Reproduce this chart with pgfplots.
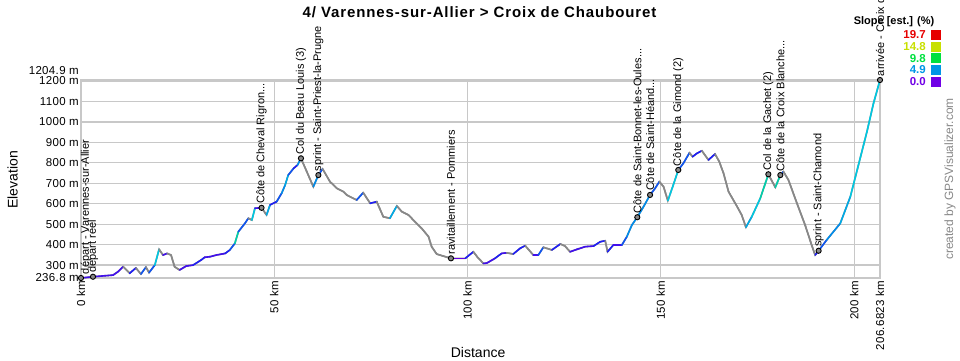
\documentclass[border=0pt]{standalone}
\usepackage{pgfplots}
\usepackage{pgfplotstable}
\pgfplotsset{compat=1.18}
\usepackage{fontspec}
\setmainfont{Liberation Sans}
\definecolor{gridc}{RGB}{200,200,200}
\definecolor{lineg}{RGB}{136,136,136}
\definecolor{sred}{RGB}{230,0,0}
\definecolor{syel}{RGB}{200,224,0}
\definecolor{sgrn}{RGB}{0,224,64}
\definecolor{sblu}{RGB}{0,150,230}
\definecolor{spur}{RGB}{112,0,230}
\newcommand{\tickfont}{\fontsize{11.5}{12}\selectfont\addfontfeatures{LetterSpace=3}}
\pgfplotstableread{
km elev m
0 236.8 1
3.1 243 1
8.3 251 1
9.6 268 1
10.9 292 -5
12.6 260 2
14.2 286 -5
15.5 256 3
16.8 290 -5
17.6 263 3
19.1 300 6
20.2 377 -5
21.2 349 1
22.3 357 -5
23.3 349 -5
24.2 292 -5
25.5 276 1
27.2 295 1
29.0 300 2
31.1 325 2
32.0 338 1
33.4 341 1
35.0 349 1
37.3 357 2
38.5 374 3
39.8 406 7
40.7 463 3
42.4 504 3
43.3 529 -5
44.2 520 6
45.0 578 1
46.7 580 -5
48.0 545 5
48.9 594 2
50.6 610 3
51.9 651 4
52.8 691 5
53.6 740 3
55.0 773 2
56.0 789 4
56.9 822 -5
58.4 757 -5
60.1 683 4
61.4 740 3
62.5 770 -5
64.4 708 -5
66.2 675 -5
67.9 659 -5
68.7 643 -5
71.3 618 3
73.0 654 -5
74.8 602 2
76.5 610 -5
78.2 536 -5
79.9 529 5
81.7 589 -5
83.0 561 -5
84.7 545 -5
86.4 512 -5
88.1 480 -5
89.9 439 -5
90.7 390 -5
92.0 354 -5
93.7 344 -5
95.7 333 0
99.4 333 2
101.5 365 -5
102.5 340 -5
104.1 308 1
105.0 310 1
107.1 333 2
108.8 357 1
110.1 360 -5
111.8 354 2
113.6 382 2
114.9 395 -5
117.0 349 1
118.3 349 3
119.6 387 -5
121.8 374 2
124.0 403 -5
125.2 393 -5
126.5 365 1
128.3 377 1
130.4 390 1
132.6 393 2
134.3 414 2
135.6 419 -5
136.2 365 2
137.7 398 1
139.9 398 3
141.2 439 4
142.5 496 4
143.9 534 4
145.5 585 4
147.2 643 3
148.5 675 3
149.6 708 -5
150.7 683 -5
151.8 615 6
153.2 691 6
154.5 765 3
155.8 797 3
157.4 849 -5
158.2 830 2
159.3 846 2
160.6 859 -5
162.3 814 2
164.0 843 -5
165.1 806 -5
166.2 749 -5
167.5 659 -5
169.6 590 -5
170.9 545 -5
172.0 485 5
173.5 536 6
175.7 626 7
177.8 744 -5
179.6 680 7
180.9 740 3
181.7 757 -5
183.0 716 -5
185.2 602 -5
187.3 496 -5
189.0 398 -5
189.9 349 2
190.8 370 3
192.9 423 4
196.4 504 5
199.0 634 6
201.1 789 6
203.3 952 6
205.0 1091 6
206.6823 1204.9 6
}\profile
\begin{document}
\begin{tikzpicture}
\path[use as bounding box] (-81pt,-82pt) rectangle (879pt,278pt);
\begin{axis}[
  scale only axis, width=799pt, height=198pt,
  xmin=0, xmax=206.6823, ymin=236.8, ymax=1204.9,
  clip=false,
  axis line style={draw=gridc, line width=1.2pt},
  grid=major, grid style={gridc, line width=1.2pt},
  major tick length=0pt,
  xtick={0,50,100,150,200,206.6823},
  xticklabels={0 km,50 km,100 km,150 km,200 km,206.6823 km},
  xticklabel style={rotate=90, anchor=east, font=\tickfont, inner sep=2.5pt},
  ytick={300,400,500,600,700,800,900,1000,1100,1200},
  yticklabels={300 m,400 m,500 m,600 m,700 m,800 m,900 m,1000 m,1100 m,1200 m},
  extra y ticks={236.8}, extra y tick labels={236.8 m},
  yticklabel style={font=\tickfont, inner sep=2pt},
  xlabel={Distance}, ylabel={Elevation},
  xlabel style={at={(axis description cs:0.497,-0.374)}, anchor=center, font=\fontsize{14}{16}\selectfont},
  ylabel style={at={(axis description cs:-0.0857,0.495)}, anchor=center, rotate=0, font=\fontsize{14}{16}\selectfont},
  colormap={slope}{rgb255(0pt)=(136,136,136) rgb255(9pt)=(136,136,136) rgb255(10pt)=(100,0,230) rgb255(12pt)=(30,30,245) rgb255(14pt)=(0,140,235) rgb255(16pt)=(0,200,225) rgb255(18pt)=(0,215,120) rgb255(20pt)=(0,224,64) rgb255(25pt)=(200,224,0) rgb255(30pt)=(230,0,0)},
  point meta min=-10, point meta max=20,
]
\draw[gridc, line width=2.5pt] (rel axis cs:0,1) -- (rel axis cs:1,1);
\addplot[lineg, line width=1.6pt, no marks] table[x=km, y=elev] {\profile};
\addplot[mesh, shader=flat corner, line width=1.6pt, line cap=round, point meta=explicit, no marks] table[x=km, y=elev, meta=m] {\profile};
\addplot[only marks, mark=*, mark size=2.6pt, mark options={fill=lineg, draw=black, line width=0.9pt},
  point meta=explicit symbolic, nodes near coords,
  every node near coord/.style={rotate=90, anchor=west, inner sep=3.5pt, font=\fontsize{11}{12}\selectfont, text=black, yshift=-5pt}]
coordinates {
(0,236.8) [départ - Varennes-sur-Allier]
};
\addplot[only marks, mark=*, mark size=2.6pt, mark options={fill=lineg, draw=black, line width=0.9pt},
  point meta=explicit symbolic, nodes near coords,
  every node near coord/.style={rotate=90, anchor=west, inner sep=3.5pt, font=\fontsize{11}{12}\selectfont, text=black}]
coordinates {
(3.1,243) [départ réel]
(46.7,580) [Côte de Cheval Rigron...]
(56.9,822) [Col du Beau Louis (3)]
(61.4,740) [sprint - Saint-Priest-la-Prugne]
(95.7,333) [ravitaillement - Pommiers]
(143.9,534) [Côte de Saint-Bonnet-les-Oules...]
(147.2,643) [Côte de Saint-Héand...]
(154.5,765) [Côte de la Gimond (2)]
(177.8,744) [Col de la Gachet (2)]
(180.9,740) [Côte de la Croix Blanche...]
(190.8,370) [sprint - Saint-Chamond]
(206.6823,1204.9) [arrivée - Croix d]
};
\node[anchor=east, inner sep=2pt, font=\tickfont] at ([yshift=9pt]rel axis cs:0,1) {1204.9 m};
\end{axis}
% decorations (pixel -> (px-81, 278-py) pt)
\node[font=\bfseries\fontsize{15}{17}\selectfont\addfontfeatures{LetterSpace=6}] at (398.5pt,266pt) {4/ Varennes-sur-Allier > Croix de Chaubouret};
\node[font=\bfseries\fontsize{11}{12}\selectfont, anchor=center] at (813pt,256pt) {Slope [est.] (\%)};
\foreach \v/\c/\yy in {19.7/sred/243, 14.8/syel/231.3, 9.8/sgrn/219.7, 4.9/sblu/208, 0.0/spur/196.3} {
  \node[font=\bfseries\fontsize{11.5}{12}\selectfont, text=\c, anchor=east, inner sep=0pt] at (845pt,\yy pt) {\v};
  \fill[\c] (850pt,\yy pt-5pt) rectangle (860pt,\yy pt+5pt);
}
\node[rotate=90, font=\fontsize{12}{13}\selectfont, text=lineg] at (869pt,99pt) {created by GPSVisualizer.com};
\end{tikzpicture}
\end{document}
